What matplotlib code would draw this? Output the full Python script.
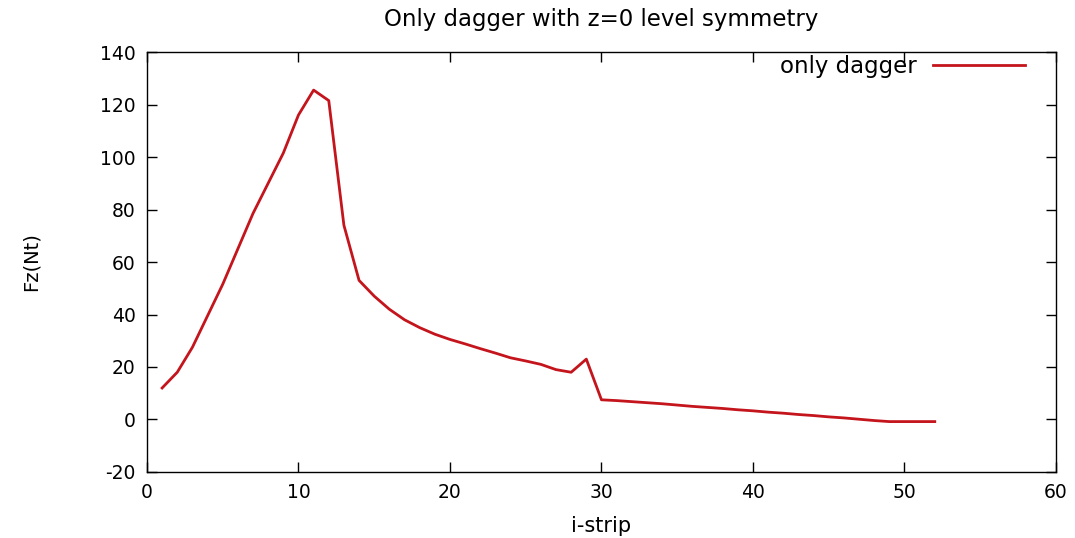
import matplotlib.pyplot as plt

plt.rcParams["axes.unicode_minus"] = False

strip = list(range(1, 53))
fz = [12.0, 18.0, 27.5, 39.5, 51.5, 65.0, 78.5, 90.0, 101.5, 116.0,
      125.5, 121.5, 74.0, 53.0, 47.0, 42.0, 38.0, 35.0, 32.5, 30.5,
      28.8, 27.0, 25.3, 23.5, 22.3, 21.0, 19.0, 18.0, 23.0, 7.5,
      7.2, 6.8, 6.4, 6.0, 5.5, 5.0, 4.6, 4.2, 3.7, 3.3,
      2.8, 2.4, 1.9, 1.5, 1.0, 0.6, 0.1, -0.4, -0.8, -0.8,
      -0.8, -0.8]

fig = plt.figure(figsize=(10.75, 5.38), dpi=100)
ax = fig.add_axes([0.1367, 0.1227, 0.8456, 0.7806])

ax.plot(strip, fz, color="#c4141c", lw=2, label="only dagger")

ax.set_xlim(0, 60)
ax.set_ylim(-20, 140)
ax.set_xticks(range(0, 61, 10))
ax.set_yticks(range(-20, 141, 20))
ax.tick_params(direction="in", top=True, right=True, length=7, width=1,
               labelsize=13.5, pad=8)
for s in ax.spines.values():
    s.set_linewidth(1)

ax.set_title("Only dagger with z=0 level symmetry", fontsize=16.5, pad=19)
ax.set_xlabel("i-strip", fontsize=15, labelpad=10)
ax.set_ylabel("Fz(Nt)", fontsize=14, labelpad=43)

ax.legend(loc="upper right", frameon=False, markerfirst=False,
          handlelength=4.0, fontsize=16.5, borderaxespad=0.2,
          handletextpad=0.7, bbox_to_anchor=(0.981, 1.026))

fig.savefig("out.png", dpi=100)
